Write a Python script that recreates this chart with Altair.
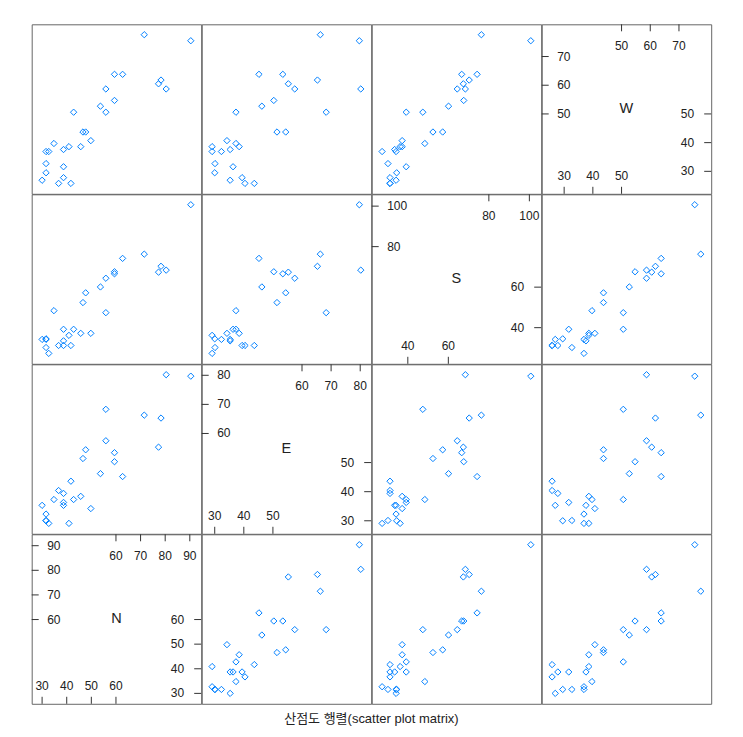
import altair as alt
import pandas as pd

N = [90.4, 71.5, 62.7, 78.3, 77.3, 80.4, 59.4, 59.4, 55.9, 55.9, 53.7, 42.8, 46.6, 47.7,
     49.8, 34.8, 45.7, 40.9, 38.7, 38.7, 38.7, 31.6, 31.6, 31.6, 32.7, 30.0, 36.7, 41.7]
E = [79.7, 66.3, 45.2, 65.3, 55.3, 80.2, 53.4, 50.3, 57.5, 68.3, 46.2, 37.3, 51.4, 54.4,
     34.2, 37.3, 38.4, 29.1, 35.3, 36.3, 39.4, 32.3, 30.1, 30.0, 29.1, 35.3, 40.4, 43.6]
S = [100.7, 76.3, 74.2, 70.3, 67.4, 68.4, 66.6, 67.6, 64.4, 47.4, 60.1, 39.2, 52.4, 57.2,
     37.2, 48.4, 37.2, 36.2, 33.5, 39.2, 31.2, 34.2, 30.2, 34.5, 27.3, 34.2, 31.2, 31.2]
W = [75.5, 77.6, 63.8, 61.8, 60.5, 58.7, 63.8, 54.7, 58.7, 50.6, 52.7, 50.6, 43.7, 43.7,
     40.7, 39.7, 38.6, 38.6, 37.6, 31.6, 27.8, 36.9, 32.7, 29.5, 36.9, 26.9, 25.8, 25.8]

VARS = ["N", "E", "S", "W"]
TICKS_LOW = {"N": [30, 40, 50, 60], "E": [30, 40, 50], "S": [40, 60], "W": [30, 40, 50]}
TICKS_HIGH = {"N": [60, 70, 80, 90], "E": [60, 70, 80], "S": [80, 100], "W": [50, 60, 70]}
TITLE = "산점도 행렬(scatter plot matrix)"

df = pd.DataFrame({"N": N, "E": E, "S": S, "W": W})

FONT = "Liberation Sans, Arial, Noto Sans CJK KR"
PW = 169.5
PH = 169.5
TICK = 7


def dom(v):
    lo, hi = float(df[v].min()), float(df[v].max())
    r = hi - lo
    return [lo - 0.07 * r, hi + 0.07 * r]


def scale(v):
    return alt.Scale(domain=dom(v), nice=False, zero=False)


def scatter(xv, yv):
    return alt.Chart(df).mark_point(
        shape="diamond", filled=False, size=40, color="#0080ff",
        strokeWidth=1, opacity=1
    ).encode(
        x=alt.X(f"{xv}:Q", scale=scale(xv), axis=None),
        y=alt.Y(f"{yv}:Q", scale=scale(yv), axis=None),
    ).properties(width=PW, height=PH)


def diag(v):
    lo = pd.DataFrame({"t": TICKS_LOW[v]})
    hi = pd.DataFrame({"t": TICKS_HIGH[v]})
    xs = alt.X("t:Q", scale=scale(v), axis=None)
    ys = alt.Y("t:Q", scale=scale(v), axis=None)
    txt = alt.Text("t:Q", format="d")
    rule = dict(color="#333333", strokeWidth=1)
    tx = dict(font=FONT, fontSize=12, color="#222222")
    layers = [
        alt.Chart(lo).mark_rule(**rule).encode(x=xs, y=alt.value(PH), y2=alt.value(PH - TICK)),
        alt.Chart(lo).mark_text(align="center", baseline="alphabetic", **tx).encode(
            x=xs, y=alt.value(PH - 14), text=txt),
        alt.Chart(hi).mark_rule(**rule).encode(y=ys, x=alt.value(0), x2=alt.value(TICK)),
        alt.Chart(hi).mark_text(align="left", baseline="middle", **tx).encode(
            y=ys, x=alt.value(15.5), text=txt),
        alt.Chart(hi).mark_rule(**rule).encode(x=xs, y=alt.value(0), y2=alt.value(TICK)),
        alt.Chart(hi).mark_text(align="center", baseline="alphabetic", **tx).encode(
            x=xs, y=alt.value(26), text=txt),
        alt.Chart(lo).mark_rule(**rule).encode(y=ys, x=alt.value(PW), x2=alt.value(PW - TICK)),
        alt.Chart(lo).mark_text(align="right", baseline="middle", **tx).encode(
            y=ys, x=alt.value(PW - 17), text=txt),
        alt.Chart(pd.DataFrame({"name": [v]})).mark_text(
            align="center", baseline="middle", font=FONT, fontSize=14.5, color="#222222"
        ).encode(x=alt.value(PW / 2), y=alt.value(PH / 2), text="name:N"),
    ]
    return alt.layer(*layers).properties(width=PW, height=PH)


cells = []
for r in range(4):
    yv = VARS[3 - r]
    for j in range(4):
        cells.append(diag(yv) if VARS[j] == yv else scatter(VARS[j], yv))

chart = alt.concat(*cells, columns=4, spacing=0, bounds="flush").resolve_scale(
    x="independent", y="independent"
).properties(
    title=alt.TitleParams(
        text=TITLE, orient="bottom", anchor="middle", fontSize=13,
        fontWeight="normal", font=FONT, color="#222222", offset=8
    ),
    padding={"left": 22.7, "top": 15.3, "right": 5, "bottom": 5},
).configure_view(stroke="#666666", strokeWidth=1).configure_concat(spacing=0)

chart.save("out.html", embed_options={"renderer": "svg", "actions": False})
